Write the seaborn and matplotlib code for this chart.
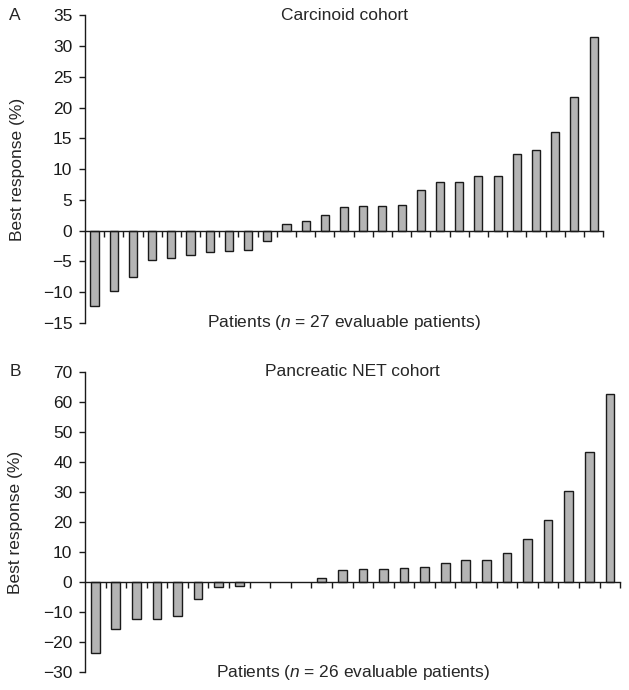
import numpy as np
import pandas as pd
import matplotlib
matplotlib.use('Agg')
import matplotlib.pyplot as plt
import seaborn as sns

# Best response (%) per patient, sorted
carcinoid = [-12.2, -9.8, -7.6, -4.8, -4.5, -4.0, -3.5, -3.3, -3.1, -1.7,
             1.1, 1.5, 2.5, 3.8, 4.0, 4.0, 4.2, 6.6, 7.9, 7.9,
             8.8, 8.8, 12.5, 13.1, 16.0, 21.7, 31.4]
pnet = [-23.8, -15.7, -12.2, -12.2, -11.4, -5.8, -1.7, -1.3, 0.0, 0.0,
        0.0, 1.5, 4.0, 4.3, 4.3, 4.7, 5.1, 6.2, 7.2, 7.2,
        9.6, 14.2, 20.7, 30.3, 43.3, 62.6]

panels = [
    dict(letter='A', title='Carcinoid cohort', values=carcinoid,
         ylim=(-15, 35), yticks=range(-15, 36, 5),
         xlabel='Patients ($n$ = 27 evaluable patients)'),
    dict(letter='B', title='Pancreatic NET cohort', values=pnet,
         ylim=(-30, 70), yticks=range(-30, 71, 10),
         xlabel='Patients ($n$ = 26 evaluable patients)'),
]

sns.set_style('white')
plt.rcParams['font.family'] = ['Liberation Sans', 'DejaVu Sans']
plt.rcParams['font.size'] = 12.5
plt.rcParams['mathtext.fontset'] = 'custom'
plt.rcParams['mathtext.it'] = 'Liberation Sans:italic'
plt.rcParams['mathtext.rm'] = 'Liberation Sans'

fs = 12.5
fig = plt.figure(figsize=(6.29, 6.90), dpi=100)
# axes rectangles in figure fraction (left, bottom, width, height)
rects = [(0.135, 0.532, 0.824, 0.446), (0.135, 0.026, 0.851, 0.435)]

for p, rect in zip(panels, rects):
    ax = fig.add_axes(rect)
    n = len(p['values'])
    df = pd.DataFrame({'patient': np.arange(n), 'response': p['values']})
    # zero-change patients have no visible bar
    df.loc[df['response'] == 0, 'response'] = np.nan
    sns.barplot(data=df, x='patient', y='response', ax=ax, order=list(range(n)),
                color='#b4b4b4', saturation=1, width=0.42,
                edgecolor='#1a1a1a', linewidth=1.0)
    ax.set_xlim(-0.5, n - 0.5)
    ax.set_ylim(*p['ylim'])
    ax.set_yticks(list(p['yticks']))
    ax.set_xticks(np.arange(n) + 0.5)
    ax.set_xticklabels([])
    for s in ['top', 'right']:
        ax.spines[s].set_visible(False)
    ax.spines['bottom'].set_position(('data', 0))
    for s in ['left', 'bottom']:
        ax.spines[s].set_color('#1a1a1a')
        ax.spines[s].set_linewidth(1.0)
    ax.tick_params(axis='y', direction='out', length=4, width=1.0,
                   pad=5, left=True, colors='#1a1a1a', labelsize=fs)
    ax.tick_params(axis='x', direction='out', length=4, width=1.0,
                   bottom=True, colors='#1a1a1a')
    ax.set_xlabel('')
    ax.set_ylabel('Best response (%)', fontsize=fs)
    ax.yaxis.set_label_coords(-0.115, 0.5)
    ax.text(0.5, 1.0, p['title'], transform=ax.transAxes,
            ha='center', va='center', fontsize=fs)
    ax.text(0.5, 0.0, p['xlabel'], transform=ax.transAxes,
            ha='center', va='center', fontsize=fs)
    ax.text(15 / 629, rect[1] + rect[3], p['letter'], transform=fig.transFigure,
            ha='center', va='center', fontsize=fs)

fig.savefig('out.png', dpi=100)
